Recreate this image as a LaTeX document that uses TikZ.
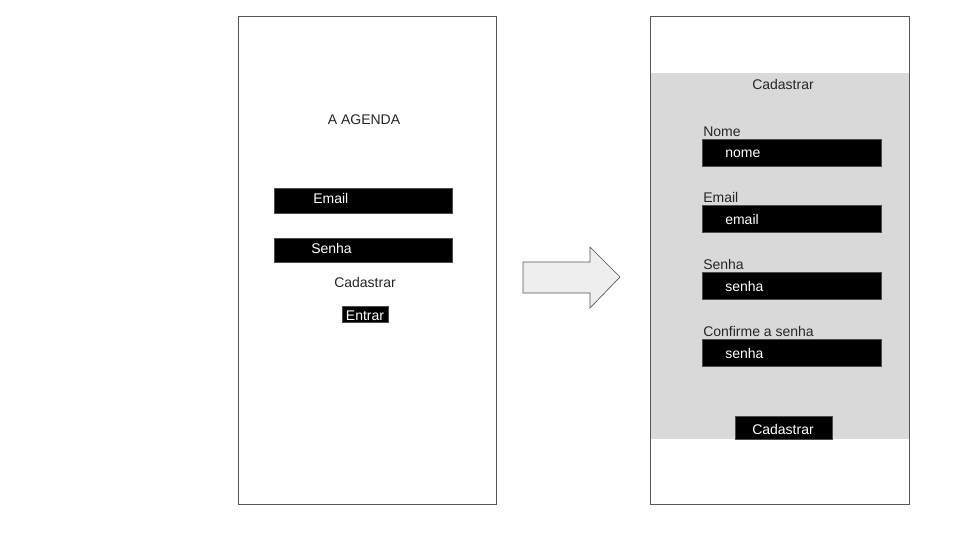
\documentclass[tikz,border=0pt]{standalone}
\usepackage{fontspec}
\setmainfont{Liberation Sans}
\definecolor{frameGray}{HTML}{555555}
\definecolor{formGray}{HTML}{D9D9D9}
\definecolor{arrowFill}{HTML}{EEEEEE}
\tikzset{
	screen/.style = {draw=frameGray, line width=0.6pt, fill=white},
	field/.style  = {fill=black, draw=black!70, line width=0.3pt, inner sep=0pt},
	txt/.style    = {inner sep=0pt, yshift=-1pt, font=\fontsize{10.5pt}{12pt}\selectfont, text=black!85},
	wtxt/.style   = {txt, text=white}
}
\begin{document}
\begin{tikzpicture}[x=0.75pt,y=-0.75pt]
	\useasboundingbox (0,0) rectangle (960,540);
	% tela de login
	\node (login) at (367,260)	[screen, minimum width=193.5pt, minimum height=366pt, inner sep=0pt]	{};
	\node (titulo) at (364,118)	[txt]	{A AGENDA};
	\node (emailL) at (363,200.5)	[field, minimum width=133.5pt, minimum height=18.75pt]	{};
	\node (emailLt) at (313,197)	[wtxt, anchor=west]	{Email};
	\node (senhaL) at (363,250)	[field, minimum width=133.5pt, minimum height=18pt]	{};
	\node (senhaLt) at (311,247)	[wtxt, anchor=west]	{Senha};
	\node (cadL) at (365,281)	[txt]	{Cadastrar};
	\node (entrar) at (365,314)	[field, minimum width=34.5pt, minimum height=12pt]	{};
	\node (entrarT) at (365,314)	[wtxt]	{Entrar};
	% seta
	\draw[draw=frameGray, fill=arrowFill, line width=0.5pt]
		(523,262) -- (590,262) -- (590,247) -- (620,277) -- (590,308) -- (590,293) -- (523,293) -- cycle;
	% tela de cadastro
	\node (cadastro) at (779.5,260)	[screen, minimum width=194.25pt, minimum height=366pt, inner sep=0pt]	{};
	\fill[formGray] (651,73) rectangle (909,439);
	\node (cadTit) at (783,83)	[txt]	{Cadastrar};
	\foreach \nome/\rot/\dica/\y in {nome/Nome/nome/152.5, email/Email/email/218.5, senha/Senha/senha/285.5, conf/Confirme a senha/senha/352.5}{
		\node (\nome Box) at (791.5,\y)	[field, minimum width=134.25pt, minimum height=20.25pt]	{};
		\node (\nome Rot) at (703,\y-22)	[txt, anchor=west]	{\rot};
		\node (\nome Txt) at (725,\y)	[wtxt, anchor=west]	{\dica};
	}
	\node (cadBtn) at (783.5,427.5)	[field, minimum width=72.75pt, minimum height=17.25pt]	{};
	\node (cadBtnT) at (783,428)	[wtxt]	{Cadastrar};
\end{tikzpicture}
\end{document}
